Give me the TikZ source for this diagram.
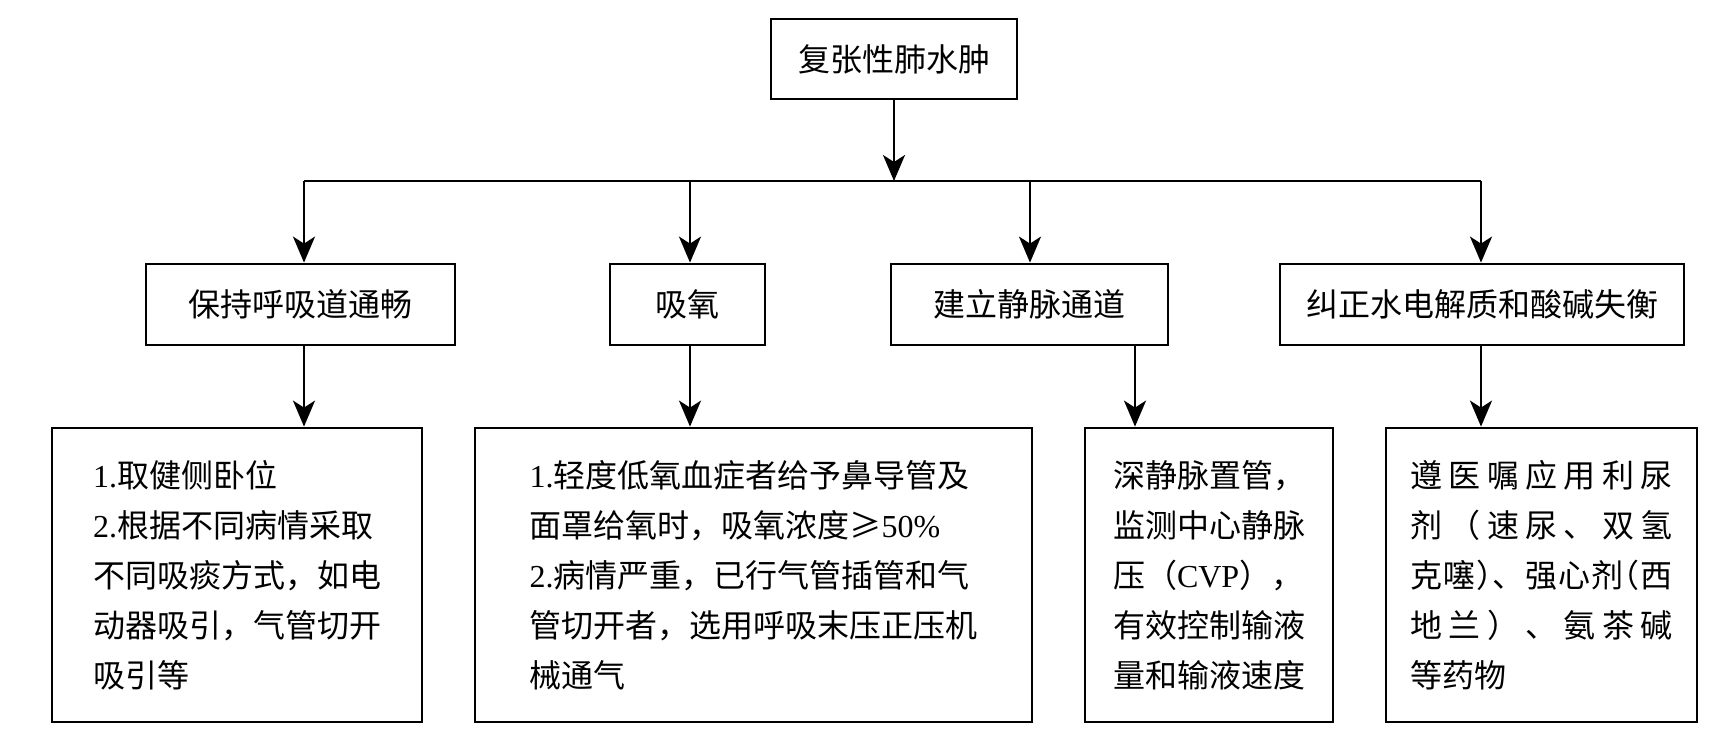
\documentclass[tikz,border=0pt]{standalone}
\usepackage{fontspec}
\setmainfont{Liberation Serif}
\newfontfamily\cjk{Noto Sans CJK SC}
\usetikzlibrary{arrows.meta}
\newcommand\lt[1]{{\rmfamily #1}}
\tikzset{
  box/.style={draw, line width=2.8pt, inner sep=0pt, align=left,
    font=\cjk\fontsize{32}{50}\selectfont},
  arr/.style={line width=2.5pt, -{Stealth[length=26pt,width=22pt,inset=7pt]}},
  wire/.style={line width=2.5pt}
}
\begin{document}
\begin{tikzpicture}[x=1pt,y=-1pt]
\useasboundingbox (0,0) rectangle (1735,748);
% top
\node[box, minimum width=246pt, minimum height=80pt] (top) at (894,59) {复张性肺水肿};
% second row
\node[box, minimum width=309pt, minimum height=81pt] (n1) at (300.5,304.5) {保持呼吸道通畅};
\node[box, minimum width=155pt, minimum height=81pt] (n2) at (687.5,304.5) {吸氧};
\node[box, minimum width=277pt, minimum height=81pt] (n3) at (1029.5,304.5) {建立静脉通道};
\node[box, minimum width=404pt, minimum height=81pt] (n4) at (1482,304.5) {纠正水电解质和酸碱失衡};
% bottom row
\node[box, minimum width=370pt, minimum height=294pt] (b1) at (237,575)
  {\lt{1.}取健侧卧位\\\lt{2.}根据不同病情采取\\不同吸痰方式，如电\\动器吸引，气管切开\\吸引等};
\node[box, minimum width=557pt, minimum height=294pt] (b2) at (753.5,575)
  {\lt{1.}轻度低氧血症者给予鼻导管及\\面罩给氧时，吸氧浓度≥\lt{50\%}\\\lt{2.}病情严重，已行气管插管和气\\管切开者，选用呼吸末压正压机\\械通气};
\node[box, minimum width=248pt, minimum height=294pt] (b3) at (1209,575)
  {深静脉置管，\\监测中心静脉\\压（\lt{CVP}），\\有效控制输液\\量和输液速度};
\node[box, minimum width=311pt, minimum height=294pt] (b4) at (1541.5,575)
  {\makebox[262pt][s]{遵\hfil 医\hfil 嘱\hfil 应\hfil 用\hfil 利\hfil 尿}\\
   \makebox[262pt][s]{剂\hfil （\hfil 速\hfil 尿\hfil 、\hfil 双\hfil 氢}\\
   \makebox[262pt][s]{克\hfil 噻\hfil\makebox[15pt][l]{）}\hfil 、\hfil 强\hfil 心\hfil 剂\hfil\makebox[15pt][r]{（}\hfil 西}\\
   \makebox[262pt][s]{地\hfil 兰\hfil ）\hfil 、\hfil 氨\hfil 茶\hfil 碱}\\
   等药物};
% connectors
\coordinate (bus) at (894,181);
\coordinate (j1) at (304,181);
\coordinate (j2) at (690,181);
\coordinate (j3) at (1030,181);
\coordinate (j4) at (1481,181);
\coordinate (k3) at (1135,181);
\draw[arr] (top.south) -- (bus);
\draw[wire] (j1) -- (j4);
\draw[arr] (j1) -- (j1 |- n1.north);
\draw[arr] (j2) -- (j2 |- n2.north);
\draw[arr] (j3) -- (j3 |- n3.north);
\draw[arr] (j4) -- (j4 |- n4.north);
\draw[arr] (n1.south -| j1) -- (b1.north -| j1);
\draw[arr] (n2.south -| j2) -- (b2.north -| j2);
\draw[arr] (n3.south -| k3) -- (b3.north -| k3);
\draw[arr] (n4.south -| j4) -- (b4.north -| j4);
\end{tikzpicture}
\end{document}
